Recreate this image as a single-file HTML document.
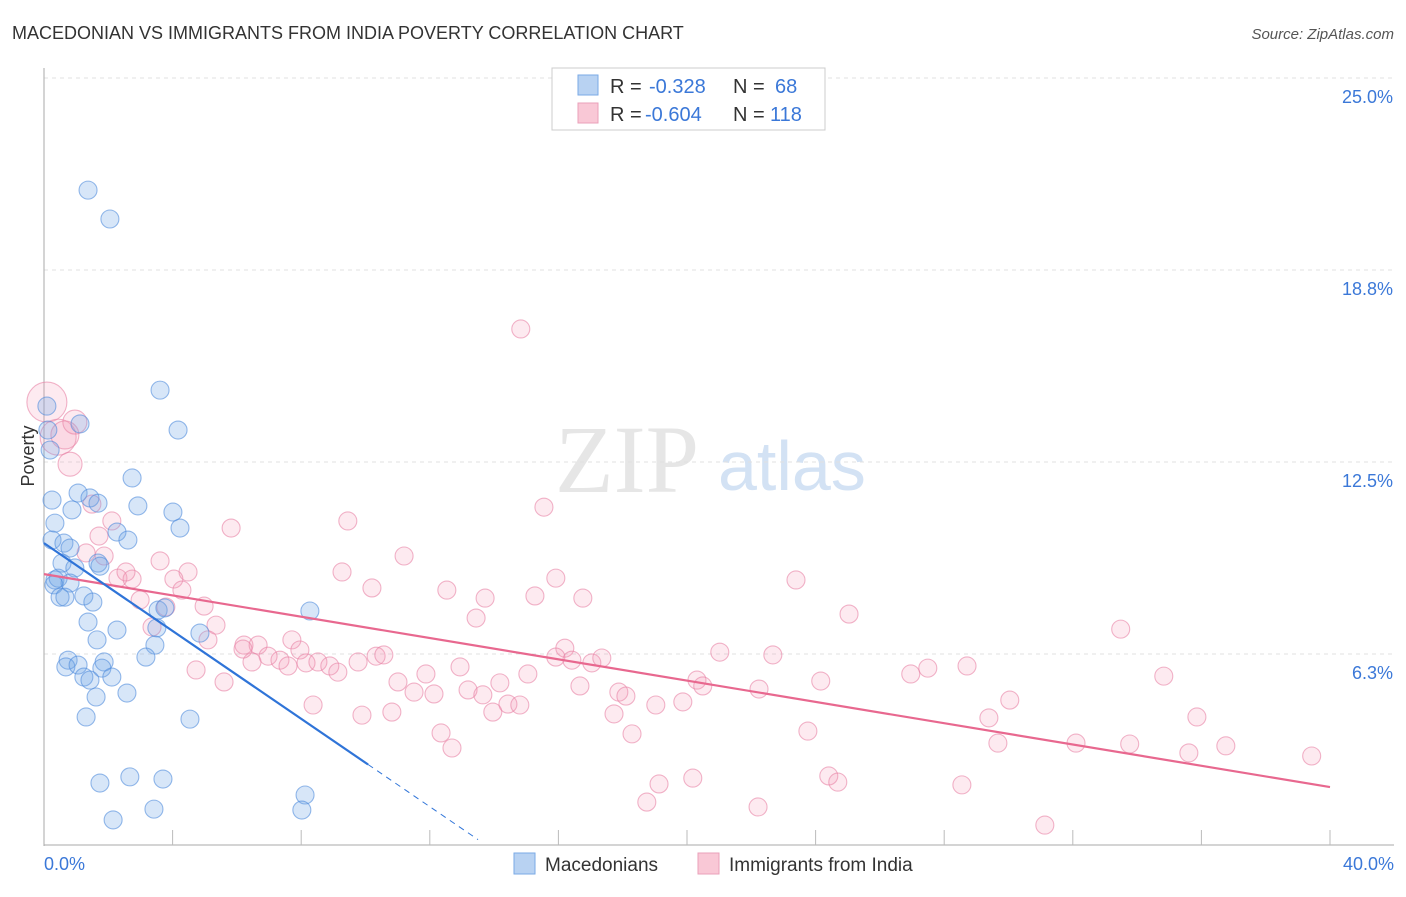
<!DOCTYPE html>
<html><head><meta charset="utf-8"><style>
body{margin:0;background:#fff;font-family:"Liberation Sans",sans-serif;}
</style></head><body>
<svg width="1406" height="892" xmlns="http://www.w3.org/2000/svg" id="chart" style="font-family:'Liberation Sans',sans-serif">
<text x="12" y="39" font-size="18" fill="#333">MACEDONIAN VS IMMIGRANTS FROM INDIA POVERTY CORRELATION CHART</text>
<text x="1394" y="39" font-size="15" fill="#555" font-style="italic" text-anchor="end">Source: ZipAtlas.com</text>
<text x="555" y="492" font-size="96" fill="#e6e6e6" font-family="Liberation Serif,serif">ZIP</text>
<text x="718" y="490" font-size="70" fill="#d3e2f4">atlas</text>
<g id="grid"></g>
<g id="axes"></g>
<g id="pts"></g>
<g id="lines"></g>
<text transform="translate(34,456) rotate(-90)" font-size="18" fill="#333" text-anchor="middle">Poverty</text>
<g>
<rect x="552" y="68" width="273" height="62" fill="#fff" stroke="#ccc"/>
<rect x="578" y="75" width="20" height="20" fill="#b8d2f2" stroke="#7aaae6"/>
<rect x="578" y="103" width="20" height="20" fill="#f9c8d6" stroke="#eaa0ba"/>
<text x="610" y="93" font-size="20" fill="#333">R =</text>
<text x="649" y="93" font-size="20" fill="#3b78d8">-0.328</text>
<text x="733" y="93" font-size="20" fill="#333">N =</text>
<text x="775" y="93" font-size="20" fill="#3b78d8">68</text>
<text x="610" y="121" font-size="20" fill="#333">R =</text>
<text x="645" y="121" font-size="20" fill="#3b78d8">-0.604</text>
<text x="733" y="121" font-size="20" fill="#333">N =</text>
<text x="770" y="121" font-size="20" fill="#3b78d8">118</text>
</g>
<g>
<rect x="514" y="853" width="21" height="21" fill="#b8d2f2" stroke="#7aaae6"/>
<text x="545" y="871" font-size="19" fill="#333">Macedonians</text>
<rect x="698" y="853" width="21" height="21" fill="#f9c8d6" stroke="#eaa0ba"/>
<text x="729" y="871" font-size="19" fill="#333">Immigrants from India</text>
</g>
</svg>
<script>
const blueX=[1.37,2.05,3.61,4.17,1.12,0.19,0.09,0.12,2.74,0.25,1.06,1.43,1.68,2.92,4.01,4.23,0.34,0.87,0.25,0.62,0.81,2.27,2.61,0.56,0.96,1.68,0.34,0.44,0.81,0.31,0.50,0.65,1.24,1.52,1.74,3.55,3.76,8.27,1.37,2.27,1.65,3.51,4.85,3.45,0.75,0.68,1.06,1.87,1.80,3.17,1.24,1.43,2.11,1.62,2.58,1.31,4.54,1.74,2.67,3.70,8.12,8.02,3.42,2.15];
const blueY=[21.35,20.41,14.84,13.54,13.74,12.89,14.32,13.54,11.98,11.26,11.49,11.33,11.16,11.07,10.87,10.35,10.51,10.94,9.96,9.86,9.70,10.22,9.96,9.21,9.05,9.21,8.66,8.72,8.56,8.50,8.10,8.10,8.14,7.94,9.11,7.68,7.75,7.65,7.29,7.03,6.71,7.10,6.93,6.54,6.05,5.83,5.89,5.99,5.79,6.15,5.50,5.40,5.50,4.85,4.98,4.20,4.13,2.05,2.25,2.18,1.66,1.17,1.20,0.85];
const pinkX=[0.09,0.44,0.65,0.96,0.81,14.83,15.55,5.82,9.45,2.11,1.49,1.71,1.87,1.31,3.61,4.48,4.04,2.30,2.74,2.55,2.99,4.29,4.98,5.35,3.36,3.79,5.10,6.22,6.66,6.97,6.47,6.19,7.34,7.71,7.96,7.59,8.15,8.52,8.89,9.14,9.77,10.33,10.57,9.27,10.20,11.20,12.53,13.44,13.72,15.27,15.92,16.76,16.20,16.42,15.92,17.04,17.35,11.01,11.51,11.88,12.13,12.94,13.19,14.18,13.65,15.05,14.43,13.96,14.80,16.67,17.88,18.10,12.35,12.69,9.89,10.82,8.37,5.60,4.73,17.73,18.29,19.03,19.87,20.31,20.49,22.24,21.02,22.67,23.39,25.04,24.16,23.76,24.41,24.69,19.13,20.18,18.75,22.21,26.96,27.49,28.71,28.55,29.39,30.04,29.67,31.13,32.10,33.49,33.77,34.83,35.61,35.86,36.76,39.43];
const pinkY=[14.45,13.31,13.38,13.80,12.43,16.83,11.03,10.35,10.58,10.58,11.13,10.09,9.44,9.54,9.28,8.92,8.69,8.72,8.69,8.92,8.01,8.33,7.81,7.19,7.13,7.78,6.71,6.54,6.54,6.18,5.99,6.41,6.05,6.71,6.38,5.86,5.96,5.99,5.86,5.66,5.99,6.18,6.22,8.92,8.40,9.44,8.33,7.42,8.07,8.14,8.72,8.07,6.44,6.05,6.15,5.96,6.12,5.34,5.01,5.60,4.95,5.83,5.08,5.31,4.92,5.60,4.62,4.36,4.59,5.21,5.01,4.88,3.68,3.19,4.26,4.36,4.59,5.34,5.73,4.30,3.65,4.59,4.69,5.40,5.21,5.11,6.31,6.22,8.66,7.55,5.37,3.74,2.28,2.08,2.02,2.21,1.43,1.27,5.60,5.79,5.86,1.99,4.17,4.75,3.35,0.68,3.35,7.06,3.32,5.53,3.03,4.20,3.26,2.93];
const pinkBig=[20,18,14,12,12];
const yTicks=[6.25,12.5,18.75,25];
const yTickLabels=["6.3%","12.5%","18.8%","25.0%"];
const blueTrend=[9.86,-0.715];
const pinkTrend=[8.85,-0.1733];
const NS="http://www.w3.org/2000/svg";
const X=v=>44+v/40*1286, Y=v=>846-v/6.25*192;
function mk(tag,attrs,parent){const e=document.createElementNS(NS,tag);for(const k in attrs)e.setAttribute(k,attrs[k]);document.getElementById(parent).appendChild(e);return e;}
yTicks.forEach((t,i)=>{
 const l=mk('line',{x1:44,x2:1394,y1:Y(t),y2:Y(t),stroke:'#e0e0e0','stroke-dasharray':'4,4'},'grid');
 
 
 const tx=mk('text',{x:1393,y:Y(t)+25,'font-size':18,fill:'#3b78d8','text-anchor':'end'},'grid');tx.textContent=yTickLabels[i];
 
 
});
mk('line',{x1:44,x2:44,y1:68,y2:846,stroke:'#aaa'},'axes');
mk('line',{x1:44,x2:1394,y1:845,y2:845,stroke:'#aaa'},'axes');
for(let i=1;i<=10;i++){const t=mk('line',{x1:X(i*4),x2:X(i*4),y1:830,y2:845,stroke:'#bbb'},'axes');
 
 }
let a=mk('text',{x:44,y:870,'font-size':18,fill:'#3b78d8'},'axes');a.textContent='0.0%';


a=mk('text',{x:1394,y:870,'font-size':18,fill:'#3b78d8','text-anchor':'end'},'axes');a.textContent='40.0%';


pinkX.forEach((x,i)=>{const c=mk('circle',{cx:X(x),cy:Y(pinkY[i]),r:i<pinkBig.length?pinkBig[i]:9,fill:'rgba(243,150,180,0.2)',stroke:'rgba(232,130,165,0.6)','stroke-width':1.1},'pts');
 
 });
blueX.forEach((x,i)=>{const c=mk('circle',{cx:X(x),cy:Y(blueY[i]),r:9,fill:'rgba(110,165,230,0.28)',stroke:'rgba(80,140,220,0.6)','stroke-width':1.1},'pts');
 
 });
let ln=mk('line',{x1:X(0),y1:Y(pinkTrend[0]),x2:X(40),y2:Y(pinkTrend[0]+pinkTrend[1]*40),stroke:'#e8688f','stroke-width':2.2},'lines');


const bEnd=10.08, bDash=13.5;
ln=mk('line',{x1:X(0),y1:Y(blueTrend[0]),x2:X(bEnd),y2:Y(blueTrend[0]+blueTrend[1]*bEnd),stroke:'#2f74d8','stroke-width':2.2},'lines');


ln=mk('line',{x1:X(bEnd),y1:Y(blueTrend[0]+blueTrend[1]*bEnd),x2:X(bDash),y2:Y(blueTrend[0]+blueTrend[1]*bDash),stroke:'#2f74d8','stroke-width':1,'stroke-dasharray':'6,5'},'lines');


</script>
</body></html>
